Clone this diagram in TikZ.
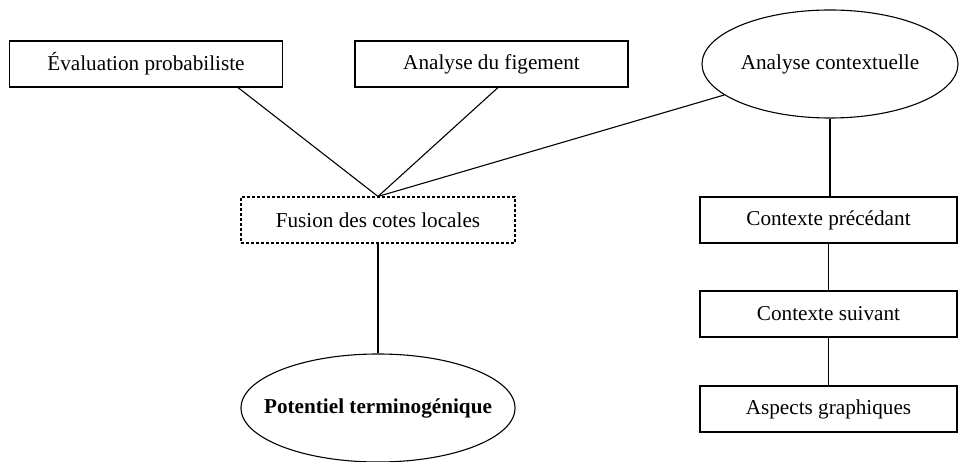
\documentclass[tikz,border=0pt]{standalone}
\usepackage{fontspec}
\setmainfont{Liberation Serif}
\usetikzlibrary{shapes.geometric,calc}
\begin{document}
\begin{tikzpicture}[x=1pt,y=-1pt,
  base/.style={draw=black,line width=1.1pt,font=\fontsize{21.2}{23}\selectfont,inner sep=0pt},
  rbox/.style={base,rectangle,minimum height=46pt},
  ell/.style={base,ellipse,minimum height=108pt},
  link/.style={draw=black,line width=1.1pt}]
\useasboundingbox (0,0) rectangle (960,462);
\node[rbox,minimum width=273pt] (ev) at (146,64) {Évaluation probabiliste};
\node[rbox,minimum width=273pt] (af) at (491.5,64) {Analyse du figement};
\node[ell,minimum width=256pt] (ac) at (830,64) {Analyse contextuelle};
\node[rbox,minimum width=274pt,dash pattern=on 3pt off 2pt] (fu) at (378,220) {Fusion des cotes locales};
\node[ell,minimum width=274pt,inner xsep=-17pt,font=\fontsize{21.2}{23}\selectfont\bfseries] (pt) at (378,408) {Potentiel terminogénique};
\node[rbox,minimum width=257pt] (cp) at (828.5,220) {Contexte précédant};
\node[rbox,minimum width=257pt] (cs) at (828.5,314) {Contexte suivant};
\node[rbox,minimum width=257pt] (ag) at (828.5,409) {Aspects graphiques};
\draw[link] ([xshift=92pt]ev.south) -- (fu.north);
\draw[link] ([xshift=6.5pt]af.south) -- (fu.north);
\draw[link] (fu.north) -- (ac);
\draw[link] (fu.south) -- (pt.north);
\draw[link] (ac.south) -- (ac.south |- cp.north);
\draw[link] (cp.south) -- (cs.north);
\draw[link] (cs.south) -- (ag.north);
\end{tikzpicture}
\end{document}
